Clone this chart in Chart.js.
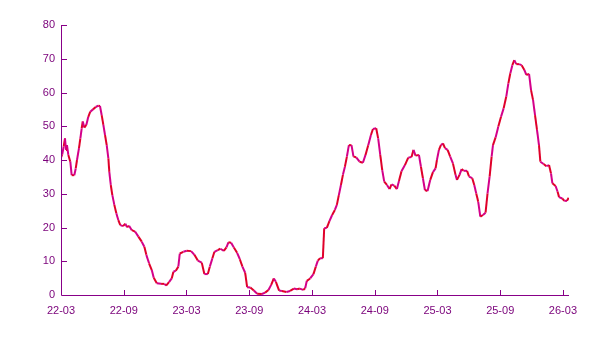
<!DOCTYPE html>
<html><head><meta charset="utf-8">
<script src="https://cdn.jsdelivr.net/npm/chart.js@4"></script>
<style>html,body{margin:0;padding:0;background:#fff}canvas{display:block}</style>
</head><body>
<canvas id="c" width="606" height="341"></canvas>
<script>
// months since 2022-03
const months = [0.00,0.12,0.26,0.38,0.48,0.57,0.70,0.89,1.02,1.27,1.41,1.53,1.72,1.85,1.98,2.08,2.23,2.42,2.61,2.80,3.06,3.32,3.57,3.73,3.89,4.05,4.21,4.37,4.53,4.62,4.76,4.91,5.10,5.29,5.48,5.67,5.93,6.15,6.32,6.51,6.77,7.08,7.40,7.72,7.97,8.16,8.42,8.68,8.87,9.16,9.57,9.89,10.05,10.33,10.59,10.75,10.98,11.22,11.36,11.70,12.03,12.44,12.76,13.08,13.46,13.71,14.04,14.23,14.48,14.67,14.99,15.24,15.57,15.82,16.01,16.27,16.53,16.84,17.10,17.35,17.61,17.80,18.11,18.44,18.76,19.21,19.52,19.84,20.10,20.35,20.55,20.86,21.12,21.56,21.91,22.27,22.58,22.84,23.16,23.35,23.51,23.83,24.14,24.37,24.56,24.78,25.04,25.17,25.42,25.67,25.93,26.19,26.38,26.57,26.77,26.96,27.15,27.34,27.53,27.78,27.97,28.23,28.55,28.87,29.12,29.38,29.64,29.83,30.14,30.33,30.53,30.72,30.91,31.17,31.42,31.61,31.87,32.12,32.32,32.56,32.89,33.21,33.52,33.71,33.90,34.23,34.42,34.61,34.80,35.05,35.31,35.57,35.82,35.95,36.14,36.33,36.53,36.72,36.97,37.22,37.48,37.73,37.87,38.11,38.31,38.50,38.83,39.02,39.33,39.52,39.71,39.90,40.10,40.35,40.60,40.79,40.99,41.18,41.31,41.56,41.82,42.08,42.33,42.58,42.78,42.97,43.16,43.35,43.54,43.80,44.05,44.31,44.50,44.76,44.95,45.14,45.33,45.52,45.71,45.84,46.15,46.41,46.67,46.86,46.99,47.30,47.49,47.63,47.94,48.13,48.39,48.55];
const values = [40.7,41.7,44,46.4,43,44.4,41.5,39.5,35.5,35.5,37.5,40,43.5,46.4,49.4,51.4,49.6,50.4,52.8,54.3,55,55.7,56.1,56,53.3,50.4,47.4,44.4,40.5,36.5,32.6,29.6,26.7,24.2,22.2,20.7,20.4,21.1,20.1,20.5,19.2,18.8,17.3,15.8,14.3,11.9,9.4,7.4,5.1,3.5,3.3,3.3,2.8,3.8,4.9,6.9,7.2,8.4,12.3,12.8,13.1,13,11.9,10.2,9.6,6.2,6.2,8.4,10.9,12.8,13.3,13.7,13.1,14.1,15.6,15.5,14.1,12.5,10.6,8.4,6.6,2.3,2.2,1.3,0.4,0.3,0.7,1.5,3,4.9,3.9,1.3,1.2,0.9,1.2,1.9,1.7,1.9,1.5,2,4.2,4.9,6.2,8.4,10.2,10.9,10.9,19.8,19.9,21.9,23.7,25.2,26.7,29.6,32.6,35.6,38,41,44.4,44.4,41,40.8,39.5,39.2,41.5,44.4,47.4,49.2,49.4,46.4,41.5,37,33.6,32.6,31.4,32.8,32.4,31.4,33.8,36.7,38.5,40.7,40.9,43,41.3,41.5,38,34.6,31.1,30.8,34.1,36.4,37.5,40,43,44.4,44.9,43.5,43,41,39,35.6,34.1,35.6,37.3,36.8,36.8,35.1,34.6,32.6,30.1,27.6,23.2,23.7,24.4,30.1,35.1,41,44.4,46.7,49.9,52.8,55.3,58.8,62.7,65.7,68.1,69.6,68.4,68.4,68.1,66.7,65.2,65.5,60.7,57.8,53.3,48.9,44.4,39.5,38.8,38.2,38.5,36,33.1,32.3,30.6,29,28.6,27.9,27.9,28.8];
const tickMonths = [0,6,12,18,24,30,36,42,48];
const tickLabels = ["22-03","22-09","23-03","23-09","24-03","24-09","25-03","25-09","26-03"];
const yTicks = [0,10,20,30,40,50,60,70,80];

const AXIS = '#880088';
const TEXT = '#7a007a';

const innerTicks = {
  id:'innerTicks',
  afterDraw(chart){
    const {ctx, chartArea:a, scales:{x,y}} = chart;
    ctx.save();
    ctx.strokeStyle = AXIS; ctx.lineWidth = 1;
    ctx.beginPath();
    ctx.moveTo(a.left+0.5, a.top); ctx.lineTo(a.left+0.5, a.bottom+0.5);
    ctx.lineTo(a.right, a.bottom+0.5);
    y.ticks.forEach((t,i)=>{ if(t.value===0) return; const py=Math.round(y.getPixelForValue(t.value))+0.5; ctx.moveTo(a.left, py); ctx.lineTo(a.left+6, py); });
    x.ticks.forEach((t,i)=>{ if(t.value===0) return; const px=Math.round(x.getPixelForValue(t.value))+0.5; ctx.moveTo(px, a.bottom); ctx.lineTo(px, a.bottom-5); });
    ctx.stroke();
    ctx.restore();
  }
};

new Chart(document.getElementById('c'), {
  type:'line',
  data:{ datasets:[{
    data: months.map((m,i)=>({x:m, y:values[i]})),
    borderWidth:2,
    borderColor:'#dc0040',
    segment:{ borderColor: c => (c.p0DataIndex%2===0 ? '#e0002a' : '#d4008a') },
    pointRadius:0, tension:0, fill:false
  }]},
  options:{
    responsive:false, animation:false,
    layout:{padding:{left:0,top:25,right:37,bottom:0}},
    plugins:{legend:{display:false}, tooltip:{enabled:false}},
    scales:{
      x:{ type:'linear', min:0, max:48.58,
        afterBuildTicks: s => { s.ticks = tickMonths.map(v=>({value:v})); },
        afterFit: s => { s.height = 46; },
        ticks:{ autoSkip:false, maxRotation:0, padding:9, color:TEXT,
          font:{family:'"Liberation Sans", Arial, sans-serif', size:11},
          callback:(v)=>{ const i=tickMonths.indexOf(v); return i>=0?tickLabels[i]:''; } },
        grid:{display:false, drawTicks:false}, border:{display:false}
      },
      y:{ min:0, max:80,
        afterBuildTicks: s => { s.ticks = yTicks.map(v=>({value:v})); },
        afterFit: s => { s.width = 61; },
        ticks:{ padding:6, color:TEXT,
          font:{family:'"Liberation Sans", Arial, sans-serif', size:11} },
        grid:{display:false, drawTicks:false}, border:{display:false}
      }
    }
  },
  plugins:[innerTicks]
});
</script>
</body></html>
